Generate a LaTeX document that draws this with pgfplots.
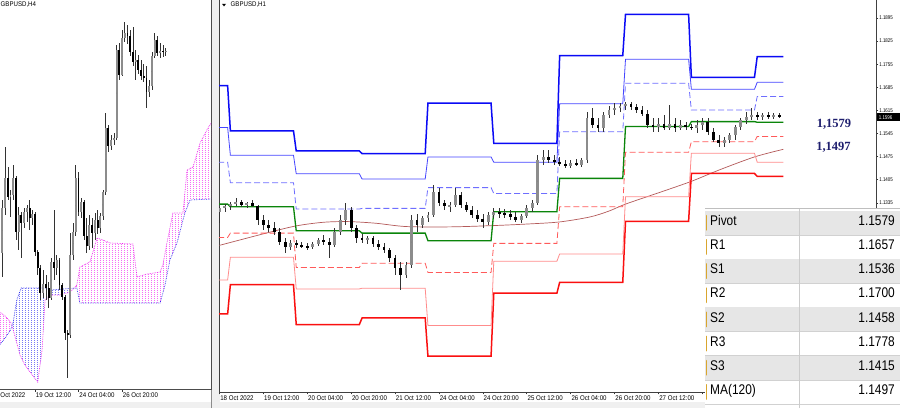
\documentclass[border=0pt]{standalone}
\usepackage{fontspec}
\setmainfont{Liberation Sans}
\newfontfamily\labfont[FakeStretch=0.9]{Liberation Sans}
\newfontfamily\pricefont[FakeStretch=0.82]{Liberation Sans}
\newfontfamily\tblfont[FakeStretch=0.85]{Liberation Sans}
\newfontfamily\serfont{Liberation Serif}
\usepackage{pgfplots}
\usepackage{pgfplotstable}
\pgfplotsset{compat=1.18}
\usetikzlibrary{patterns}

\pgfdeclarepatternformonly{kumo}{\pgfpointorigin}{\pgfpoint{2.72pt}{2pt}}{\pgfpoint{2.72pt}{2pt}}%
 {\pgfpathrectangle{\pgfpointorigin}{\pgfpoint{0.95pt}{1pt}}\pgfusepath{fill}}

\definecolor{winbg}{HTML}{F0F0F0}
\definecolor{rowgray}{HTML}{E6E6E6}
\definecolor{cR3}{HTML}{0A0AF5}
\definecolor{cR2}{HTML}{4646FF}
\definecolor{cR1}{HTML}{6E6EFF}
\definecolor{cP}{HTML}{0A850A}
\definecolor{cS1}{HTML}{FF5A5A}
\definecolor{cS2}{HTML}{FF8C8C}
\definecolor{cS3}{HTML}{FA1010}
\definecolor{cMA}{HTML}{B45A5A}
\definecolor{navy}{HTML}{1E1E6E}
\definecolor{bull}{HTML}{8C8C8C}
\definecolor{gold}{HTML}{D9A62E}
\definecolor{kumoM}{HTML}{F020F0}
\definecolor{kumoB}{HTML}{3030F0}

% H4 candles (left panel)
\pgfplotstableread{
x o hi lo c
0 1.1494 1.1600 1.1446 1.1584
1 1.1584 1.1706 1.1570 1.1644
2 1.1644 1.1666 1.1600 1.1606
3 1.1606 1.1620 1.1566 1.1610
4 1.1610 1.1670 1.1600 1.1644
5 1.1644 1.1648 1.1520 1.1536
6 1.1536 1.1586 1.1500 1.1570
7 1.1570 1.1576 1.1484 1.1554
8 1.1554 1.1584 1.1544 1.1576
9 1.1576 1.1590 1.1556 1.1584
10 1.1584 1.1600 1.1540 1.1564
11 1.1564 1.1580 1.1550 1.1572
12 1.1572 1.1576 1.1488 1.1496
13 1.1496 1.1500 1.1450 1.1464
14 1.1464 1.1470 1.1400 1.1414
15 1.1414 1.1460 1.1404 1.1432
16 1.1432 1.1450 1.1400 1.1424
17 1.1424 1.1436 1.1384 1.1404
18 1.1404 1.1484 1.1400 1.1476
19 1.1476 1.1580 1.1440 1.1464
20 1.1464 1.1490 1.1450 1.1480
21 1.1480 1.1484 1.1420 1.1430
22 1.1430 1.1434 1.1400 1.1406
23 1.1406 1.1410 1.1320 1.1334
24 1.1334 1.1340 1.1244 1.1330
25 1.1330 1.1534 1.1324 1.1490
26 1.1490 1.1554 1.1480 1.1536
27 1.1536 1.1670 1.1528 1.1644
28 1.1644 1.1656 1.1568 1.1576
29 1.1576 1.1604 1.1564 1.1596
30 1.1596 1.1600 1.1520 1.1528
31 1.1528 1.1564 1.1494 1.1508
32 1.1508 1.1570 1.1500 1.1550
33 1.1550 1.1564 1.1504 1.1534
34 1.1534 1.1574 1.1520 1.1560
35 1.1560 1.1580 1.1532 1.1544
36 1.1544 1.1574 1.1534 1.1568
37 1.1568 1.1620 1.1560 1.1616
38 1.1616 1.1774 1.1610 1.1744
39 1.1744 1.1750 1.1696 1.1708
40 1.1708 1.1730 1.1700 1.1720
41 1.1720 1.1734 1.1710 1.1724
42 1.1724 1.1910 1.1720 1.1900
43 1.1900 1.1914 1.1840 1.1850
44 1.1850 1.1940 1.1848 1.1924
45 1.1924 1.1956 1.1916 1.1934
46 1.1934 1.1950 1.1912 1.1928
47 1.1928 1.1940 1.1888 1.1896
48 1.1896 1.1946 1.1868 1.1876
49 1.1876 1.1900 1.1840 1.1880
50 1.1880 1.1890 1.1852 1.1860
51 1.1860 1.1880 1.1840 1.1848
52 1.1848 1.1872 1.1836 1.1844
53 1.1844 1.1868 1.1784 1.1816
54 1.1816 1.1840 1.1806 1.1828
55 1.1828 1.1896 1.1820 1.1888
56 1.1888 1.1934 1.1884 1.1920
57 1.1920 1.1928 1.1888 1.1894
58 1.1894 1.1914 1.1884 1.1898
59 1.1898 1.1910 1.1886 1.1896
60 1.1896 1.1904 1.1888 1.1898
}\leftdata

% H1 candles (right panel), one candle per two hours
\pgfplotstableread{
x o hi lo c
0 1.1307 1.1322 1.1274 1.1319
2 1.1319 1.1331 1.1307 1.1325
4 1.1325 1.1337 1.1313 1.1331
6 1.1331 1.1350 1.1325 1.1337
8 1.1337 1.1343 1.1322 1.1328
10 1.1328 1.1337 1.1319 1.1334
12 1.1334 1.1343 1.1322 1.1325
14 1.1325 1.1328 1.1268 1.1283
16 1.1283 1.1298 1.1253 1.1268
18 1.1268 1.1283 1.1247 1.1259
20 1.1259 1.1277 1.1238 1.1247
22 1.1247 1.1259 1.1207 1.1216
24 1.1216 1.1229 1.1183 1.1201
26 1.1201 1.1222 1.1192 1.1213
28 1.1213 1.1222 1.1198 1.1207
30 1.1207 1.1216 1.1198 1.1204
32 1.1204 1.1213 1.1192 1.1201
34 1.1201 1.1216 1.1195 1.1210
36 1.1210 1.1229 1.1204 1.1222
38 1.1222 1.1238 1.1207 1.1216
40 1.1216 1.1229 1.1168 1.1207
42 1.1207 1.1259 1.1201 1.1247
44 1.1247 1.1298 1.1238 1.1283
46 1.1283 1.1334 1.1268 1.1313
48 1.1313 1.1322 1.1247 1.1259
50 1.1259 1.1268 1.1213 1.1229
52 1.1229 1.1241 1.1213 1.1222
54 1.1222 1.1234 1.1210 1.1229
56 1.1229 1.1234 1.1201 1.1210
58 1.1210 1.1222 1.1192 1.1201
60 1.1201 1.1213 1.1183 1.1192
62 1.1192 1.1198 1.1156 1.1168
64 1.1168 1.1177 1.1116 1.1138
66 1.1138 1.1156 1.1071 1.1116
68 1.1116 1.1156 1.1107 1.1147
70 1.1147 1.1298 1.1138 1.1283
72 1.1283 1.1301 1.1247 1.1268
74 1.1268 1.1295 1.1259 1.1289
76 1.1289 1.1307 1.1277 1.1298
78 1.1298 1.1389 1.1292 1.1368
80 1.1368 1.1380 1.1325 1.1334
82 1.1334 1.1343 1.1313 1.1325
84 1.1325 1.1337 1.1307 1.1328
86 1.1328 1.1380 1.1322 1.1359
88 1.1359 1.1368 1.1319 1.1328
90 1.1328 1.1337 1.1307 1.1313
92 1.1313 1.1325 1.1289 1.1298
94 1.1298 1.1313 1.1277 1.1286
96 1.1286 1.1301 1.1259 1.1277
98 1.1277 1.1307 1.1268 1.1298
100 1.1298 1.1319 1.1289 1.1307
102 1.1307 1.1319 1.1289 1.1304
104 1.1304 1.1316 1.1289 1.1301
106 1.1301 1.1313 1.1283 1.1292
108 1.1292 1.1307 1.1277 1.1283
110 1.1283 1.1301 1.1274 1.1295
112 1.1295 1.1328 1.1289 1.1319
114 1.1319 1.1343 1.1307 1.1334
116 1.1334 1.1480 1.1328 1.1465
118 1.1465 1.1495 1.1450 1.1474
120 1.1474 1.1495 1.1456 1.1465
122 1.1465 1.1480 1.1450 1.1459
124 1.1459 1.1474 1.1447 1.1453
126 1.1453 1.1465 1.1441 1.1447
128 1.1447 1.1465 1.1441 1.1456
130 1.1456 1.1468 1.1447 1.1450
132 1.1450 1.1471 1.1444 1.1465
134 1.1465 1.1610 1.1456 1.1592
136 1.1592 1.1622 1.1562 1.1571
138 1.1571 1.1592 1.1550 1.1562
140 1.1562 1.1610 1.1550 1.1601
142 1.1601 1.1628 1.1592 1.1616
144 1.1616 1.1637 1.1601 1.1622
146 1.1622 1.1637 1.1610 1.1628
148 1.1628 1.1640 1.1616 1.1634
150 1.1634 1.1640 1.1616 1.1625
152 1.1625 1.1634 1.1607 1.1616
154 1.1616 1.1628 1.1598 1.1604
156 1.1604 1.1616 1.1562 1.1571
158 1.1571 1.1592 1.1550 1.1565
160 1.1565 1.1592 1.1550 1.1574
162 1.1574 1.1601 1.1556 1.1562
164 1.1562 1.1631 1.1556 1.1574
166 1.1574 1.1592 1.1550 1.1562
168 1.1562 1.1586 1.1556 1.1571
170 1.1571 1.1580 1.1556 1.1565
172 1.1565 1.1574 1.1556 1.1562
174 1.1562 1.1586 1.1547 1.1571
176 1.1571 1.1592 1.1556 1.1580
178 1.1580 1.1592 1.1540 1.1550
180 1.1550 1.1562 1.1519 1.1525
182 1.1525 1.1540 1.1504 1.1516
184 1.1516 1.1534 1.1504 1.1525
186 1.1525 1.1547 1.1516 1.1540
188 1.1540 1.1571 1.1525 1.1565
190 1.1565 1.1592 1.1556 1.1586
192 1.1586 1.1610 1.1574 1.1595
194 1.1595 1.1622 1.1586 1.1601
196 1.1601 1.1610 1.1586 1.1595
198 1.1595 1.1607 1.1586 1.1601
200 1.1601 1.1610 1.1589 1.1598
202 1.1598 1.1607 1.1589 1.1601
204 1.1601 1.1607 1.1592 1.1596
}\rightdata

% daily pivot levels
\pgfplotstableread{
h R3 R2 R1 P S1 S2 S3
-0.5 1.1690 1.1563 1.1458 1.1331 1.1230 1.1101 1.0998
3 1.1690 1.1563 1.1458 1.1331 1.1230 1.1101 1.0998
4 1.1553 1.1479 1.1396 1.1323 1.1243 1.1170 1.1087
27 1.1553 1.1479 1.1396 1.1323 1.1243 1.1170 1.1087
28 1.1492 1.1423 1.1316 1.1250 1.1139 1.1074 1.0966
51 1.1492 1.1423 1.1316 1.1250 1.1139 1.1074 1.0966
52 1.1484 1.1407 1.1318 1.1243 1.1152 1.1076 1.0986
75 1.1484 1.1407 1.1318 1.1243 1.1152 1.1076 1.0986
76 1.1637 1.1474 1.1381 1.1220 1.1124 1.0963 1.0870
99 1.1637 1.1474 1.1381 1.1220 1.1124 1.0963 1.0870
100 1.1515 1.1458 1.1363 1.1308 1.1212 1.1158 1.1061
123 1.1515 1.1458 1.1363 1.1308 1.1212 1.1158 1.1061
124 1.1781 1.1635 1.1550 1.1409 1.1323 1.1180 1.1094
147 1.1781 1.1635 1.1550 1.1409 1.1323 1.1180 1.1094
148 1.1906 1.1770 1.1697 1.1566 1.1488 1.1353 1.1279
171 1.1906 1.1770 1.1697 1.1566 1.1488 1.1353 1.1279
172 1.1715 1.1679 1.1616 1.1581 1.1520 1.1485 1.1424
195 1.1715 1.1679 1.1616 1.1581 1.1520 1.1485 1.1424
196 1.1778 1.1700 1.1657 1.1579 1.1536 1.1458 1.1415
205.5 1.1778 1.1700 1.1657 1.1579 1.1536 1.1458 1.1415
}\levels

\pgfplotstableread{
h ma
0 1.1206
17 1.1243
28 1.1265
38 1.1276
47 1.1278
57 1.1273
68 1.1263
84 1.1262
100 1.1266
113 1.1271
124 1.1277
135 1.1292
142 1.1310
148 1.1331
161 1.1368
172 1.1400
182 1.1434
195 1.1474
205.5 1.1497
}\matable

\pgfplotsset{candle/.style={only marks, mark=*, mark size=0pt, mark options={draw=none, fill=none}, forget plot,
  error bars/y dir=both, error bars/y explicit, error bars/error mark=none}}

\newcommand\drawcandles[2]{%
\addplot[candle, error bars/error bar style={draw=black!80, line width=0.6pt}]
  table[x=x, y expr={(\thisrow{hi}+\thisrow{lo})/2},
        y error expr={(\thisrow{hi}-\thisrow{lo})/2}] {#1};
\addplot[candle, error bars/error bar style={draw=bull, line width=#2}]
  table[x=x, y expr={(\thisrow{o}+\thisrow{c})/2},
        y error expr={(\thisrow{c}>=\thisrow{o})*max(abs(\thisrow{c}-\thisrow{o})/2,0.00008)}] {#1};
\addplot[candle, error bars/error bar style={draw=black, line width=#2}]
  table[x=x, y expr={(\thisrow{o}+\thisrow{c})/2},
        y error expr={(\thisrow{c}<\thisrow{o})*max(abs(\thisrow{c}-\thisrow{o})/2,0.00008)}] {#1};
}

\begin{document}
\begin{tikzpicture}
\useasboundingbox (0pt,0pt) rectangle (900pt,408pt);
\fill[winbg] (0pt,0pt) rectangle (900pt,408pt);
\fill[white] (0pt,6pt) rectangle (211pt,408pt);
\fill[white] (219.5pt,6pt) rectangle (900pt,408pt);
\draw[black!45, line width=0.6pt] (211.3pt,0pt) -- (211.3pt,408pt);

% ---------------- left panel (H4) ----------------
\begin{axis}[
  at={(-2pt,19pt)}, anchor=south west, scale only axis,
  width=213pt, height=391pt,
  xmin=-1.603, xmax=76.71, ymin=1.1222, ymax=1.2004,
  axis line style={draw=black!70, line width=0.6pt},
  ytick=\empty, xtick pos=bottom,
  xtick={12,28,44},
  xticklabels={19 Oct 12:00, 24 Oct 04:00, 26 Oct 20:00},
  tick align=outside, major tick length=2.5pt,
  xtick style={black!80, line width=0.5pt},
  xticklabel style={font=\labfont\fontsize{6.8}{7}\selectfont, anchor=north west, inner sep=0pt, xshift=0.7pt, yshift=-1pt},
]
% Ichimoku cloud
\addplot[draw=none, pattern=kumo, pattern color=kumoM, forget plot] coordinates {
 (-1.6,1.1378) (-1,1.1376) (1,1.1368) (3,1.1356) (3.5,1.1348)
 (3,1.1340) (1,1.1324) (-1,1.1310) (-1.6,1.1306)};
\addplot[draw=none, pattern=kumo, pattern color=kumoB, forget plot] coordinates {
 (3.5,1.1348) (4,1.1356) (5.3,1.1400) (6.9,1.1424) (15.7,1.1424) (17.5,1.1420) (26.2,1.1423)
 (25,1.1416) (21,1.1410) (17.5,1.1410) (15.7,1.1400) (14.6,1.1300) (13,1.1236) (10.2,1.1256)
 (8.3,1.1270) (6.5,1.1290) (4,1.1340)};
\addplot[draw=none, pattern=kumo, pattern color=kumoM, forget plot] coordinates {
 (26.2,1.1423) (27.4,1.1430) (28.5,1.1466) (32.2,1.1476) (34.8,1.1524) (37,1.1520) (39.6,1.1514)
 (48,1.1512) (49.5,1.1446) (53.2,1.1452) (58,1.1456) (59,1.1470) (60.5,1.1514) (62.7,1.1574)
 (66.4,1.1574) (67.9,1.1660) (70.1,1.1666) (72.7,1.1714) (75.2,1.1740) (77,1.1756)
 (77,1.1602) (69,1.1600) (67.1,1.1574) (64.2,1.1514) (61.6,1.1480) (59.8,1.1430) (58,1.1394)
 (28.5,1.1394) (27.4,1.1424)};
% Senkou span A and B
\addplot[kumoM, densely dotted, line width=0.7pt] coordinates {
 (-1.6,1.1378) (-1,1.1376) (1,1.1368) (3,1.1356) (4,1.1340) (6.5,1.1290) (8.3,1.1270) (10.2,1.1256)
 (13,1.1236) (14.6,1.1300) (15.7,1.1400) (17.5,1.1410) (21,1.1410) (25,1.1416) (27.4,1.1430)
 (28.5,1.1466) (32.2,1.1476) (34.8,1.1524) (37,1.1520) (39.6,1.1514) (48,1.1512) (49.5,1.1446)
 (53.2,1.1452) (58,1.1456) (59,1.1470) (60.5,1.1514) (62.7,1.1574) (66.4,1.1574) (67.9,1.1660)
 (70.1,1.1666) (72.7,1.1714) (75.2,1.1740) (77,1.1756)};
\addplot[kumoB, densely dotted, line width=0.7pt] coordinates {
 (-1.6,1.1306) (-1,1.1310) (1,1.1324) (3,1.1340) (4,1.1356) (5.3,1.1400) (6.9,1.1424) (15.7,1.1424)
 (17.5,1.1420) (27.4,1.1424) (28.5,1.1394) (58,1.1394) (59.8,1.1430) (61.6,1.1480) (64.2,1.1514)
 (67.1,1.1574) (69,1.1600) (77,1.1602)};
\drawcandles{\leftdata}{1.9pt}
\end{axis}
\node[anchor=north west, inner sep=0pt, font=\labfont\fontsize{6.8}{7}\selectfont] at (0.3pt,15.5pt) {Oct 2022};
\node[anchor=west, inner sep=0pt, font=\labfont\fontsize{6.8}{7}\selectfont] at (0.5pt,403pt) {GBPUSD,H4};

% ---------------- right panel (H1) ----------------
\begin{axis}[
  at={(219pt,16pt)}, anchor=south west, scale only axis,
  width=657pt, height=394pt,
  xmin=-0.146, xmax=239.29, ymin=1.07616, ymax=1.19556,
  axis line style={draw=black!75, line width=0.6pt},
  xtick pos=bottom, ytick pos=right,
  xtick={0,16,32,48,64,80,96,112,128,144,160,176},
  xticklabels={18 Oct 2022, 19 Oct 12:00, 20 Oct 04:00, 20 Oct 20:00, 21 Oct 12:00, 24 Oct 04:00,
    24 Oct 20:00, 25 Oct 12:00, 26 Oct 04:00, 26 Oct 20:00, 27 Oct 12:00, {}},
  ytick={1.1335,1.1405,1.1475,1.1545,1.1615,1.1685,1.1755,1.1825,1.1895},
  tick align=outside, major tick length=2.3pt,
  tick style={black!80, line width=0.5pt},
  xticklabel style={font=\labfont\fontsize{6.8}{7}\selectfont, anchor=north west, inner sep=0pt, xshift=0.7pt, yshift=-1pt},
  yticklabel style={font=\pricefont\fontsize{5.4}{6}\selectfont, anchor=west, inner sep=0pt, xshift=0.8pt,
    /pgf/number format/.cd, fixed, fixed zerofill, precision=4, assume math mode=true},
]
\addplot[cMA, line width=0.7pt, smooth] table[x=h, y=ma] {\matable};
\addplot[cS3, line width=1.5pt] table[x=h, y=S3] {\levels};
\addplot[cS2, line width=0.8pt] table[x=h, y=S2] {\levels};
\addplot[cS1, line width=0.8pt, dash pattern=on 6pt off 3pt] table[x=h, y=S1] {\levels};
\addplot[cR1, line width=0.8pt, dash pattern=on 6pt off 3pt] table[x=h, y=R1] {\levels};
\addplot[cR2, line width=0.8pt] table[x=h, y=R2] {\levels};
\addplot[cR3, line width=1.5pt] table[x=h, y=R3] {\levels};
\addplot[cP, line width=1.3pt] table[x=h, y=P] {\levels};
\drawcandles{\rightdata}{2.8pt}
\end{axis}
\fill[black] (222pt,404.2pt) -- (226pt,404.2pt) -- (224pt,401.6pt) -- cycle;
\node[anchor=west, inner sep=0pt, font=\labfont\fontsize{6.8}{7}\selectfont] at (230.5pt,403pt) {GBPUSD,H1};

% current price box
\fill[black] (876.5pt,286.6pt) rectangle (900pt,294.8pt);
\node[anchor=west, inner sep=0pt, text=white, font=\pricefont\fontsize{5.4}{6}\selectfont] at (878.6pt,290.7pt) {1.1596};

% level captions
\node[text=navy, font=\serfont\bfseries\fontsize{12.5}{13}\selectfont, inner sep=0pt] at (834pt,283.7pt) {1,1579};
\node[text=navy, font=\serfont\bfseries\fontsize{12.5}{13}\selectfont, inner sep=0pt] at (833.5pt,260.5pt) {1,1497};

% ---------------- table ----------------
\fill[white] (705pt,0pt) rectangle (900pt,199.5pt);
\draw[black!25, line width=0.5pt] (705pt,199.3pt) -- (900pt,199.3pt);
\foreach \k/\name/\val in {0/Pivot/1.1579, 1/R1/1.1657, 2/S1/1.1536, 3/R2/1.1700, 4/S2/1.1458, 5/R3/1.1778, 6/S3/1.1415, 7/MA(120)/1.1497}{
  \pgfmathsetmacro\yt{197.3-24.16*\k}
  \pgfmathsetmacro\yb{\yt-24.16}
  \pgfmathsetmacro\yc{\yt-12.08}
  \ifodd\k\else \fill[rowgray] (705pt,\yb pt) rectangle (900pt,\yt pt);\fi
  \draw[black!18, line width=0.5pt] (705pt,\yb pt) -- (900pt,\yb pt);
  \draw[gold, line width=1.6pt, line cap=round] (706.6pt,\yt pt-5pt) -- (706.6pt,\yb pt+5pt);
  \node[anchor=mid west, inner sep=0pt, font=\tblfont\fontsize{14}{16}\selectfont] at (710pt,\yc pt) {\name};
  \node[anchor=mid east, inner sep=0pt, font=\tblfont\fontsize{14}{16}\selectfont] at (895pt,\yc pt) {\val};
}
\draw[black!20, line width=0.6pt] (799.3pt,0pt) -- (799.3pt,199.3pt);
\end{tikzpicture}
\end{document}
